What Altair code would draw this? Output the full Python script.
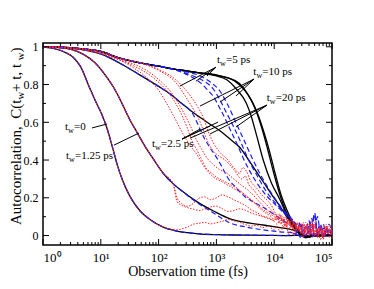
import altair as alt
import pandas as pd

# ---------------- data (x stored as log10 of time in fs) ----------------
NZ_T = [4.0, 4.05, 4.1, 4.15, 4.2, 4.25, 4.3, 4.35, 4.4, 4.45, 4.5, 4.55, 4.6, 4.65, 4.7, 4.75, 4.8, 4.85, 4.9, 4.95, 5.0]
BZ_T = [4.35, 4.4, 4.45, 4.5, 4.55, 4.6, 4.65, 4.7, 4.75, 4.8, 4.85, 4.9, 4.95, 5.0]

# t_w = 0
K0_T = [0.0, 0.2, 0.4, 0.52, 0.65, 0.81, 0.92, 1.02, 1.1, 1.2, 1.28, 1.38, 1.5, 1.68, 1.85, 2.08, 2.3, 2.5, 2.75, 3.0, 3.3, 3.6, 3.9, 4.2, 4.5, 4.7, 4.85, 5.0]
K0_C = [0.998, 0.99, 0.968, 0.945, 0.895, 0.78, 0.705, 0.64, 0.575, 0.47, 0.38, 0.29, 0.21, 0.13, 0.085, 0.045, 0.025, 0.015, 0.008, 0.005, 0.003, 0.002, 0.001, 0.0, 0.002, -0.003, 0.001, 0.0]
B0_TAIL_T = [4.35, 4.5, 4.6, 4.7, 4.8, 4.9, 5.0]
B0_TAIL_C = [0.01, -0.005, 0.015, 0.0, 0.02, -0.005, 0.01]
R0_TAIL_T = [2.3, 2.4, 2.5, 2.6, 2.7, 2.8, 2.9, 3.0, 3.1, 3.2, 3.3, 3.4, 3.5, 3.6, 3.7, 3.8, 3.9]
R0_TAIL_C = [0.03, 0.035, 0.045, 0.06, 0.065, 0.07, 0.062, 0.068, 0.075, 0.085, 0.078, 0.07, 0.058, 0.05, 0.055, 0.042, 0.05]
R0_Z = [0.03, 0.05, 0.02, 0.04, 0.06, 0.01, 0.03, 0.0, 0.05, 0.02, -0.01, 0.04, 0.01, 0.06, 0.0, 0.03, -0.02, 0.02, 0.05, -0.01, 0.02]

# t_w = 1.25 ps
K1_T = [0.0, 0.3, 0.5, 0.7, 0.9, 1.1, 1.25, 1.39, 1.5, 1.62, 1.79, 1.9, 2.08, 2.25, 2.4, 2.66, 2.95, 3.24, 3.5, 3.81, 4.1, 4.3, 4.4, 4.47, 4.55, 4.65, 4.75, 4.85, 5.0]
K1_C = [0.999, 0.995, 0.985, 0.96, 0.915, 0.84, 0.77, 0.685, 0.615, 0.55, 0.46, 0.41, 0.33, 0.275, 0.237, 0.18, 0.13, 0.088, 0.07, 0.056, 0.042, 0.032, 0.02, 0.005, -0.005, 0.004, 0.0, 0.006, 0.0]
B1_TAIL_T = [2.66, 2.95, 3.24, 3.5, 3.81, 4.1, 4.3]
B1_TAIL_C = [0.175, 0.12, 0.066, 0.046, 0.03, 0.02, 0.016]
B1_Z = [0.0, 0.02, -0.01, 0.03, 0.0, 0.05, -0.01, 0.02, 0.0, 0.04, -0.01, 0.02, 0.0, 0.01]
R1_TAIL_T = [2.32, 2.4, 2.5, 2.6, 2.7, 2.8, 2.9, 3.0, 3.1, 3.2, 3.3, 3.4, 3.5, 3.6, 3.7, 3.8, 3.9]
R1_TAIL_C = [0.2, 0.17, 0.155, 0.17, 0.198, 0.205, 0.19, 0.2, 0.215, 0.205, 0.19, 0.175, 0.16, 0.137, 0.122, 0.104, 0.095]
R1_Z = [0.075, 0.06, 0.082, 0.05, 0.07, 0.032, 0.06, 0.02, 0.05, 0.012, 0.04, 0.07, 0.0, 0.03, 0.05, -0.01, 0.04, 0.01, 0.06, 0.0, 0.03]
RC_TAIL_C = [0.18, 0.16, 0.148, 0.14, 0.133, 0.14, 0.152, 0.156, 0.142, 0.128, 0.132, 0.142, 0.134, 0.12, 0.11, 0.1, 0.09]
RC_Z = [0.08, 0.092, 0.062, 0.072, 0.045, 0.08, 0.05, 0.03, 0.06, 0.02, 0.05, 0.0, 0.04, 0.02, 0.07, 0.01, 0.03, -0.02, 0.04, 0.02, 0.0]

# t_w = 2.5 ps
K2_T = [0.0, 0.5, 1.0, 1.33, 1.68, 2.0, 2.2, 2.4, 2.54, 2.72, 2.89, 3.06, 3.24, 3.41, 3.58, 3.7, 3.81, 3.95, 4.1, 4.25, 4.39, 4.47, 4.55, 4.65, 4.75, 4.85, 5.0]
K2_C = [1.0, 0.992, 0.962, 0.913, 0.85, 0.79, 0.75, 0.70, 0.665, 0.625, 0.59, 0.555, 0.51, 0.465, 0.39, 0.335, 0.285, 0.22, 0.155, 0.085, 0.03, 0.002, -0.012, 0.004, 0.012, -0.004, 0.006]
B2_TAIL_T = [2.6, 2.7, 2.8, 2.9, 3.03, 3.12, 3.2, 3.35, 3.49, 3.63, 3.78, 3.96, 4.1, 4.2, 4.3]
B2_TAIL_C = [0.64, 0.575, 0.51, 0.46, 0.40, 0.35, 0.305, 0.25, 0.207, 0.18, 0.155, 0.12, 0.09, 0.07, 0.05]
B2_Z = [0.04, 0.02, 0.05, 0.01, 0.03, 0.08, 0.0, 0.03, 0.1, 0.01, 0.04, 0.0, 0.03, 0.01]

# fast red group
RA_T0 = [0.0, 0.5, 1.0, 1.33]
RA_C0 = [1.0, 0.992, 0.965, 0.93]
RA1_T = [1.56, 1.8, 2.0, 2.14, 2.3, 2.42, 2.54, 2.66, 2.8, 2.95, 3.1, 3.24, 3.35, 3.45, 3.55, 3.65, 3.75, 3.85, 3.95]
RA1_C = [0.89, 0.835, 0.77, 0.7, 0.61, 0.54, 0.48, 0.43, 0.36, 0.31, 0.285, 0.26, 0.24, 0.225, 0.2, 0.175, 0.145, 0.12, 0.1]
RA1_Z = [0.085, 0.1, 0.07, 0.09, 0.05, 0.072, 0.04, 0.06, 0.02, 0.05, 0.0, 0.04, 0.06, 0.01, 0.03, -0.01, 0.05, 0.02, 0.0, 0.04, 0.01]
RA2_T = [1.56, 1.91, 2.2, 2.35, 2.49, 2.58, 2.66, 2.75, 2.83, 2.92, 3.0, 3.12, 3.24, 3.36, 3.48, 3.6, 3.72, 3.84, 3.95]
RA2_C = [0.9, 0.835, 0.745, 0.67, 0.575, 0.5, 0.455, 0.4, 0.355, 0.33, 0.31, 0.29, 0.27, 0.25, 0.22, 0.19, 0.16, 0.13, 0.11]
RA2_Z = [0.1, 0.082, 0.11, 0.07, 0.09, 0.06, 0.08, 0.03, 0.06, 0.04, 0.01, 0.05, 0.02, 0.07, 0.0, 0.03, 0.05, -0.01, 0.02, 0.06, 0.01]
RA3_T = [1.6, 1.95, 2.25, 2.4, 2.55, 2.65, 2.74, 2.84, 2.95, 3.05, 3.18, 3.3, 3.42, 3.55, 3.68, 3.8, 3.9, 3.97]
RA3_C = [0.905, 0.84, 0.745, 0.67, 0.58, 0.51, 0.46, 0.41, 0.375, 0.35, 0.33, 0.3, 0.27, 0.24, 0.2, 0.16, 0.13, 0.12]
RA3_Z = [0.11, 0.09, 0.1, 0.075, 0.06, 0.085, 0.045, 0.065, 0.03, 0.05, 0.07, 0.01, 0.04, 0.0, 0.05, 0.02, -0.02, 0.03, 0.05, 0.0, 0.02]

# slow group (t_w = 5, 10, 20 ps)
TOP_T = [0.0, 0.3, 0.6, 1.0, 1.33, 1.68, 2.0, 2.37, 2.7]
TOP_C = [1.0, 0.998, 0.992, 0.975, 0.94, 0.915, 0.897, 0.877, 0.862]
K5_T = [2.98, 3.18, 3.35, 3.52, 3.6, 3.7, 3.81, 3.95, 4.1, 4.2, 4.3, 4.4, 4.47, 4.55, 4.65, 4.75, 4.85, 5.0]
K5_C = [0.847, 0.825, 0.775, 0.7, 0.635, 0.525, 0.4, 0.28, 0.19, 0.12, 0.06, 0.02, 0.0, -0.008, 0.004, -0.003, 0.006, 0.0]
K10_T = [2.98, 3.2, 3.4, 3.55, 3.68, 3.78, 3.88, 3.98, 4.08, 4.18, 4.3, 4.42, 4.5, 4.58, 4.68, 4.78, 4.9, 5.0]
K10_C = [0.85, 0.835, 0.805, 0.745, 0.665, 0.575, 0.465, 0.345, 0.235, 0.145, 0.07, 0.02, 0.0, -0.01, 0.005, -0.004, 0.004, 0.0]
K20_T = [2.98, 3.32, 3.5, 3.61, 3.72, 3.82, 3.92, 4.02, 4.12, 4.22, 4.32, 4.42, 4.5, 4.6, 4.7, 4.8, 4.9, 5.0]
K20_C = [0.852, 0.818, 0.765, 0.715, 0.64, 0.55, 0.445, 0.325, 0.215, 0.135, 0.07, 0.025, 0.0, -0.01, 0.006, 0.0, 0.005, -0.002]
B5_T = [2.2, 2.4, 2.6, 2.72, 2.85, 2.94, 3.05, 3.15, 3.24, 3.35, 3.45, 3.58, 3.72, 3.87, 4.0, 4.1, 4.2, 4.3]
B5_C = [0.885, 0.865, 0.835, 0.81, 0.77, 0.74, 0.68, 0.62, 0.56, 0.49, 0.42, 0.34, 0.27, 0.21, 0.17, 0.14, 0.11, 0.08]
B5_Z = [0.06, 0.03, 0.07, 0.02, 0.05, 0.0, 0.04, 0.12, 0.01, 0.03, 0.06, 0.0, 0.02, 0.01]
B10_T = [2.3, 2.6, 2.8, 2.95, 3.05, 3.15, 3.3, 3.45, 3.55, 3.7, 3.85, 4.0, 4.15, 4.3]
B10_C = [0.876, 0.845, 0.815, 0.775, 0.725, 0.665, 0.575, 0.475, 0.405, 0.32, 0.24, 0.18, 0.13, 0.09]
B10_Z = [0.07, 0.04, 0.06, 0.01, 0.05, 0.02, 0.09, 0.0, 0.03, 0.06, 0.01, 0.04, 0.0, 0.02]
B20_T = [2.4, 2.7, 2.9, 3.05, 3.2, 3.35, 3.5, 3.62, 3.75, 3.9, 4.05, 4.2, 4.3]
B20_C = [0.872, 0.848, 0.812, 0.77, 0.69, 0.59, 0.49, 0.41, 0.33, 0.25, 0.18, 0.12, 0.085]
B20_Z = [0.07, 0.05, 0.02, 0.06, 0.0, 0.04, 0.02, 0.11, 0.01, 0.05, 0.0, 0.03, 0.06, 0.01]
RB1_T = [2.0, 2.3, 2.5, 2.62, 2.72, 2.8, 2.87, 2.94, 3.05, 3.15, 3.3, 3.44, 3.5, 3.56, 3.65, 3.75, 3.85, 3.95]
RB1_C = [0.875, 0.81, 0.72, 0.66, 0.6, 0.535, 0.485, 0.45, 0.42, 0.4, 0.35, 0.3, 0.315, 0.27, 0.24, 0.2, 0.17, 0.135]
RB1_Z = [0.12, 0.1, 0.115, 0.08, 0.1, 0.06, 0.09, 0.05, 0.07, 0.03, 0.06, 0.02, 0.04, 0.08, 0.01, 0.03, 0.05, 0.0, 0.04, -0.01, 0.02]
RB2_T = [2.0, 2.3, 2.55, 2.68, 2.78, 2.86, 2.95, 3.05, 3.2, 3.3, 3.4, 3.46, 3.52, 3.6, 3.7, 3.8, 3.9, 3.97]
RB2_C = [0.88, 0.825, 0.74, 0.68, 0.62, 0.55, 0.49, 0.445, 0.4, 0.36, 0.33, 0.36, 0.34, 0.285, 0.25, 0.21, 0.18, 0.15]
RB2_Z = [0.13, 0.11, 0.09, 0.1, 0.07, 0.085, 0.05, 0.075, 0.04, 0.06, 0.02, 0.05, 0.0, 0.035, 0.06, 0.01, 0.03, -0.015, 0.04, 0.02, 0.0]

# axis ticks
MAJ_X = [1, 10, 100, 1000, 10000, 100000]
MIN_X = [m * d for d in [1, 10, 100, 1000, 10000] for m in [2, 3, 4, 5, 6, 7, 8, 9]]
MAJ_Y = [0.0, 0.2, 0.4, 0.6, 0.8, 1.0]
MIN_Y = [0.1, 0.3, 0.5, 0.7, 0.9]

# annotations: (log10 t, C) of the label anchor, subscript-free remainder
ANN_T = [0.381, 0.398, 1.886, 3.010, 3.638, 3.870]
ANN_C = [0.559, 0.403, 0.4665, 0.9125, 0.850, 0.713]
ANN_REST = ["=0", "=1.25 ps", "=2.5 ps", "=5 ps", "=10 ps", "=20 ps"]
# leader lines: start (log t, C) -> end (log t, C)
LEAD = [
    (0.848, 0.570, 1.107, 0.591),
    (1.228, 0.479, 1.661, 0.543),
    (2.405, 0.511, 2.716, 0.564), (2.405, 0.511, 2.889, 0.580), (2.405, 0.511, 3.028, 0.601),
    (2.993, 0.892, 2.370, 0.792), (2.993, 0.892, 2.647, 0.818), (2.993, 0.892, 2.837, 0.845),
    (3.651, 0.829, 2.716, 0.686), (3.651, 0.829, 3.062, 0.707), (3.651, 0.829, 3.339, 0.739),
    (3.875, 0.691, 2.543, 0.516), (3.875, 0.691, 2.889, 0.538), (3.875, 0.691, 3.339, 0.575),
]

# ---------------- assemble ----------------
curves = [
    ("K0", "k", K0_T, K0_C),
    ("K1", "k", K1_T, K1_C),
    ("K2", "k", K2_T, K2_C),
    ("K5", "k", TOP_T + K5_T, TOP_C + K5_C),
    ("K10", "k", TOP_T + K10_T, TOP_C + K10_C),
    ("K20", "k", TOP_T + K20_T, TOP_C + K20_C),
    ("B0", "b", K0_T[:24] + B0_TAIL_T, K0_C[:24] + B0_TAIL_C),
    ("B1", "b", K1_T[:15] + B1_TAIL_T + BZ_T, K1_C[:15] + B1_TAIL_C + B1_Z),
    ("B2", "b", K2_T[:9] + B2_TAIL_T + BZ_T, K2_C[:9] + B2_TAIL_C + B2_Z),
    ("B5", "b", TOP_T[:7] + B5_T + BZ_T, TOP_C[:7] + B5_C + B5_Z),
    ("B10", "b", TOP_T[:7] + B10_T + BZ_T, TOP_C[:7] + B10_C + B10_Z),
    ("B20", "b", TOP_T[:7] + B20_T + BZ_T, TOP_C[:7] + B20_C + B20_Z),
    ("R0", "r", K0_T[:16] + R0_TAIL_T + NZ_T, K0_C[:16] + R0_TAIL_C + R0_Z),
    ("R1", "r", K1_T[:14] + R1_TAIL_T + NZ_T, K1_C[:14] + R1_TAIL_C + R1_Z),
    ("RC", "r", K1_T[:14] + R1_TAIL_T + NZ_T, K1_C[:14] + RC_TAIL_C + RC_Z),
    ("RA1", "r", RA_T0 + RA1_T + NZ_T, RA_C0 + RA1_C + RA1_Z),
    ("RA2", "r", RA_T0 + RA2_T + NZ_T, RA_C0 + RA2_C + RA2_Z),
    ("RA3", "r", RA_T0 + RA3_T + NZ_T, RA_C0 + RA3_C + RA3_Z),
    ("RB1", "r", TOP_T[:6] + RB1_T + NZ_T, TOP_C[:6] + RB1_C + RB1_Z),
    ("RB2", "r", TOP_T[:6] + RB2_T + NZ_T, TOP_C[:6] + RB2_C + RB2_Z),
]
rows = []
for cid, sty, ts, cs in curves:
    for i, (lt, c) in enumerate(zip(ts, cs)):
        rows.append({"id": cid, "sty": sty, "t": 10 ** lt, "c": c, "i": i})
df = pd.DataFrame(rows)

W, H = 289, 202
SERIF = "Liberation Serif"
xs = alt.Scale(type="log", domain=[1, 100000], nice=False)
ys = alt.Scale(domain=[-0.05, 1.02], nice=False, zero=False)

x_axis = alt.Axis(
    values=MAJ_X, ticks=False, domain=False, grid=False,
    labelExpr="'10' + ['\u2070','\u00b9','\u00b2','\u00b3','\u2074','\u2075'][round(log(datum.value)/log(10))]",
    labelFont=SERIF, labelFontSize=13, labelColor="black", labelPadding=6,
    title="Observation time (fs)", titleFont=SERIF, titleFontSize=14,
    titleFontWeight="normal", titleColor="black", titlePadding=0,
)
y_axis = alt.Axis(
    values=MAJ_Y, ticks=False, domain=False, grid=False,
    labelExpr="datum.value == 0 ? '0' : datum.value == 1 ? '1' : format(datum.value, '.1f')",
    labelFont=SERIF, labelFontSize=12, labelColor="black", labelPadding=5,
    title=None,
)


def X(f):
    return alt.X(f, type="quantitative", scale=xs, axis=x_axis)


def Y(f):
    return alt.Y(f, type="quantitative", scale=ys, axis=y_axis)


base = alt.Chart(df)
black = base.transform_filter("datum.sty == 'k'").mark_line(
    color="black", strokeWidth=1.3, interpolate="monotone", clip=True
).encode(x=X("t"), y=Y("c"), detail="id:N", order="i:Q")
blue = base.transform_filter("datum.sty == 'b'").mark_line(
    color="#1a1aff", strokeWidth=1.2, strokeDash=[5, 3], interpolate="monotone", clip=True
).encode(x=X("t"), y=Y("c"), detail="id:N", order="i:Q")
red = base.transform_filter("datum.sty == 'r'").mark_line(
    color="#ff2020", strokeWidth=1.0, strokeDash=[1.5, 1.5], interpolate="monotone", clip=True
).encode(x=X("t"), y=Y("c"), detail="id:N", order="i:Q")

# ticks (inward)
dmx = pd.DataFrame({"t": MAJ_X})
dnx = pd.DataFrame({"t": MIN_X})
dmy = pd.DataFrame({"c": MAJ_Y})
dny = pd.DataFrame({"c": MIN_Y})
tk = dict(color="black", strokeWidth=1)
ticks = [
    alt.Chart(dmx).mark_rule(**tk).encode(x=X("t"), y=alt.value(H), y2=alt.value(H - 6)),
    alt.Chart(dnx).mark_rule(**tk).encode(x=X("t"), y=alt.value(H), y2=alt.value(H - 3)),
    alt.Chart(dmx).mark_rule(**tk).encode(x=X("t"), y=alt.value(0), y2=alt.value(6)),
    alt.Chart(dnx).mark_rule(**tk).encode(x=X("t"), y=alt.value(0), y2=alt.value(3)),
    alt.Chart(dmy).mark_rule(**tk).encode(y=Y("c"), x=alt.value(0), x2=alt.value(6)),
    alt.Chart(dny).mark_rule(**tk).encode(y=Y("c"), x=alt.value(0), x2=alt.value(3)),
    alt.Chart(dmy).mark_rule(**tk).encode(y=Y("c"), x=alt.value(W), x2=alt.value(W - 6)),
    alt.Chart(dny).mark_rule(**tk).encode(y=Y("c"), x=alt.value(W), x2=alt.value(W - 3)),
]

# annotations
dann = pd.DataFrame({"t": [10 ** v for v in ANN_T], "c": ANN_C, "rest": ANN_REST})
ann_t = alt.Chart(dann).mark_text(font=SERIF, fontSize=11, align="left", baseline="alphabetic", color="black").encode(
    x=X("t"), y=Y("c"), text=alt.value("t"))
ann_w = alt.Chart(dann).mark_text(font=SERIF, fontSize=8, align="left", baseline="alphabetic", color="black", dx=3.1, dy=3).encode(
    x=X("t"), y=Y("c"), text=alt.value("w"))
ann_r = alt.Chart(dann).mark_text(font=SERIF, fontSize=11, align="left", baseline="alphabetic", color="black", dx=9).encode(
    x=X("t"), y=Y("c"), text="rest:N")
dlead = pd.DataFrame({
    "t": [10 ** a for a, b, c, d in LEAD], "c": [b for a, b, c, d in LEAD],
    "t2": [10 ** c for a, b, c, d in LEAD], "c2": [d for a, b, c, d in LEAD],
})
leads = alt.Chart(dlead).mark_rule(color="black", strokeWidth=1).encode(
    x=X("t"), y=Y("c"), x2="t2", y2="c2")

# y-axis title pieces (rotated)
one = pd.DataFrame({"a": [0]})


def ytxt(s, px, py, size):
    return alt.Chart(one).mark_text(font=SERIF, fontSize=size, angle=270, align="left",
                                    baseline="alphabetic", color="black").encode(
        x=alt.value(px), y=alt.value(py), text=alt.value(s))


YB = -22
ytitle = [
    ytxt("Autocorrelation,\u00a0\u00a0C(t", YB, 182, 15),
    ytxt("w", YB + 3, 56.6, 10.5),
    ytxt("\u00a0+ t, t", YB, 49.0, 15),
    ytxt("w", YB + 3, 17.2, 10.5),
    ytxt(")", YB, 9.6, 15),
]

chart = alt.layer(black, blue, red, *ticks, leads, ann_t, ann_w, ann_r, *ytitle).properties(
    width=W, height=H,
    autosize=alt.AutoSizeParams(type="none"),
    padding={"left": 35, "top": 35, "right": 20, "bottom": 44},
).configure_view(stroke="black", strokeWidth=1.5)

chart.save("out.html", embed_options={"renderer": "svg", "actions": False})
